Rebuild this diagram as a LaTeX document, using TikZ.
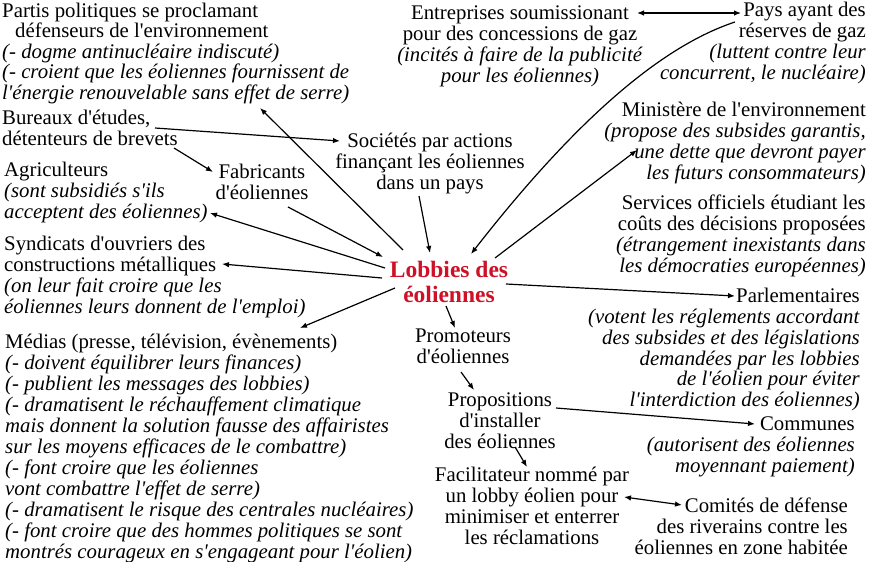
\documentclass[tikz,border=0pt]{standalone}
\usepackage{fontspec}
\setmainfont{Liberation Serif}[Ligatures=TeXOff]
\usetikzlibrary{arrows.meta}
\definecolor{lobbyred}{RGB}{206,17,38}
\tikzset{
  txt/.style={inner sep=0pt, font=\fontsize{20.8}{20.8}\selectfont},
  lb/.style={txt, align=left},
  rb/.style={txt, align=right},
  cb/.style={txt, align=center},
  arr/.style={line width=1.2pt, -{Latex[length=7pt,width=5.5pt]}},
  darr/.style={line width=1.2pt, {Latex[length=7pt,width=5.5pt]}-{Latex[length=7pt,width=5.5pt]}},
}
\newcommand{\itl}[1]{\textit{#1}}
\begin{document}
\begin{tikzpicture}[x=1pt,y=-1pt]
\useasboundingbox (0,0) rectangle (870,562);
\fill[white] (0,0) rectangle (870,562);

\node[lb, anchor=north west, font=\fontsize{20.8}{20.5}\selectfont] (partis) at (2,2.5)
 {Partis politiques se proclamant\\
  \hspace*{13pt}défenseurs de l'environnement\\
  \itl{(- dogme antinucléaire indiscuté)}\\
  \itl{(- croient que les éoliennes fournissent de}\\
  \itl{l'énergie renouvelable sans effet de serre)}};

\node[lb, anchor=north west] (bureaux) at (2,110)
 {Bureaux d'études,\\détenteurs de brevets};

\node[lb, anchor=north west] (agri) at (4,162)
 {Agriculteurs\\\itl{(sont subsidiés s'ils}\\\itl{acceptent des éoliennes)}};

\node[cb, anchor=north] (fab) at (262,164) {Fabricants\\d'éoliennes};

\node[cb, anchor=north] (soc) at (430,133)
 {Sociétés par actions\\finançant les éoliennes\\dans un pays};

\node[lb, anchor=north west] (synd) at (4,236)
 {Syndicats d'ouvriers des\\constructions métalliques\\
  \itl{(on leur fait croire que les}\\\itl{éoliennes leurs donnent de l'emploi)}};

\node[lb, anchor=north west, font=\fontsize{20.8}{21}\selectfont] (medias) at (5,334)
 {Médias (presse, télévision, évènements)\\
  \itl{(- doivent équilibrer leurs finances)}\\
  \itl{(- publient les messages des lobbies)}\\
  \itl{(- dramatisent le réchauffement climatique}\\
  \itl{mais donnent la solution fausse des affairistes}\\
  \itl{sur les moyens efficaces de le combattre)}\\
  \itl{(- font croire que les éoliennes}\\
  \itl{vont combattre l'effet de serre)}\\
  \itl{(- dramatisent le risque des centrales nucléaires)}\\
  \itl{(- font croire que des hommes politiques se sont}\\
  \itl{montrés courageux en s'engageant pour l'éolien)}};

\node[cb, anchor=north, font=\bfseries\fontsize{23.5}{24.5}\selectfont, text=lobbyred]
 (lobby) at (449,261) {Lobbies des\\éoliennes};

\node[cb, anchor=north] (promo) at (463,329) {Promoteurs\\d'éoliennes};

\node[cb, anchor=north] (propos) at (500,393)
 {Propositions\\d'installer\\des éoliennes};

\node[cb, anchor=north] (facil) at (532,467)
 {Facilitateur nommé par\\un lobby éolien pour\\minimiser et enterrer\\les réclamations};

\node[rb, anchor=north east] (comites) at (848,498)
 {Comités de défense\\des riverains contre les\\éoliennes en zone habitée};

\node[rb, anchor=north east] (communes) at (855,417)
 {Communes\\\itl{(autorisent des éoliennes}\\\itl{moyennant paiement)}};

\node[rb, anchor=north east] (pays) at (866,2)
 {Pays ayant des\\réserves de gaz\\\itl{(luttent contre leur}\\\itl{concurrent, le nucléaire)}};

\node[rb, anchor=north east] (minis) at (866,102)
 {Ministère de l'environnement\\\itl{(propose des subsides garantis,}\\
  \itl{une dette que devront payer}\\\itl{les futurs consommateurs)}};

\node[rb, anchor=north east] (serv) at (866,195)
 {Services officiels étudiant les\\coûts des décisions proposées\\
  \itl{(étrangement inexistants dans}\\\itl{les démocraties européennes)}};

\node[rb, anchor=north east] (parl) at (860,288)
 {Parlementaires\\\itl{(votent les réglements accordant}\\
  \itl{des subsides et des législations}\\\itl{demandées par les lobbies}\\
  \itl{de l'éolien pour éviter}\\\itl{l'interdiction des éoliennes)}};

\node[cb, anchor=north] (entr) at (520,6)
 {Entreprises soumissionant\\pour des concessions de gaz\\
  \itl{(incités à faire de la publicité}\\\itl{pour les éoliennes)}};

% connectors
\draw[arr] ([shift={(-46,-11)}]lobby.north) -- ([shift={(258,105.5)}]partis.north west);
\draw[arr] ([shift={(153,18)}]bureaux.north west) -- ([shift={(-90,8)}]soc.north);
\draw[arr] ([shift={(172,38)}]bureaux.north west) -- ([shift={(-49,8)}]fab.north);
\draw[arr] ([shift={(26,43)}]fab.north) -- ([shift={(-66,-4)}]lobby.north);
\draw[arr] ([shift={(-64,7)}]lobby.north) -- ([shift={(206,51)}]agri.north west);
\draw[arr] ([shift={(-67,17)}]lobby.north) -- ([shift={(218,28)}]synd.north west);
\draw[arr] ([shift={(-54,27)}]lobby.north) -- ([shift={(295,-6)}]medias.north west);
\draw[arr] ([shift={(-11,63)}]soc.north) -- ([shift={(-19,-8)}]lobby.north);
\draw[arr] ([shift={(-131,20)}]pays.north east) .. controls (650,50) and (560,140) .. ([shift={(22,-7)}]lobby.north);
\draw[arr] ([shift={(46,-3)}]lobby.north) -- ([shift={(-229,48)}]minis.north east);
\draw[arr] ([shift={(57,23)}]lobby.north) -- ([shift={(-125,8)}]parl.north east);
\draw[arr] ([shift={(-3,45)}]lobby.north) -- ([shift={(-8,-1)}]promo.north);
\draw[arr] ([shift={(-2,43)}]promo.north) -- ([shift={(-26,-3)}]propos.north);
\draw[arr] ([shift={(56,15)}]propos.north) -- ([shift={(-100,7)}]communes.north east);
\draw[arr] ([shift={(15,54)}]propos.north) -- ([shift={(-5,0)}]facil.north);
\draw[darr] ([shift={(92,30)}]facil.north) -- ([shift={(-166,7)}]comites.north east);
\draw[darr] ([shift={(117,7)}]entr.north) -- ([shift={(-125,11)}]pays.north east);
\end{tikzpicture}
\end{document}
